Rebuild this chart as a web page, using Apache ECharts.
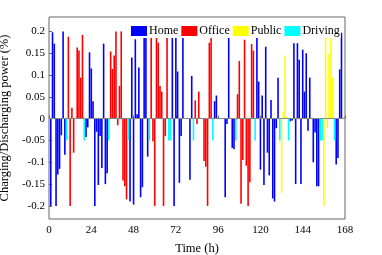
<!DOCTYPE html>
<html><head><meta charset="utf-8">
<script src="https://cdn.jsdelivr.net/npm/echarts@6/dist/echarts.min.js"></script>
<style>html,body{margin:0;padding:0;background:#fff}#c{width:382px;height:255px}</style>
</head><body><div id="c"></div>
<script>
const seriesNames = ['Home', 'Office', 'Public', 'Driving'];
const seriesCodes = ['H', 'O', 'P', 'D'];
const seriesColors = ['#0000ff', '#ff0000', '#ffff00', '#00ffff'];
const xTicks = [0, 24, 48, 72, 96, 120, 144, 168];
const yTicks = [-0.2, -0.15, -0.1, -0.05, 0, 0.05, 0.1, 0.15, 0.2];
// hour-by-hour mode (H home, O office, P public, D driving, - idle), hours 1..168
const modeSeq = 'HHHHHHHHHDOOOO-OOOODHHHHHHHHHHHHHDOOOOOOOOOODHHHHHHHHHHHDOOOOOOOOOODDHHHHHHH---HHDOOO--OOOOODHH----HHH-HHDOOOOOOOOOODHHHHHHHHHHHHHDPPPPDHHHHHHHHHHHH-HHHHDDPPPPPPDHHHH--';
// charging (+) / discharging (-) power, hours 1..168
const power = [
 -0.2, 0.198, 0.172, -0.2, -0.128, -0.115, -0.038, 0.2, -0.083, -0.05,
 0.188, -0.2, 0.025, -0.078, 0, 0.163, 0.156, 0.094, 0.192, -0.05,
 -0.042, -0.02, 0.152, 0.115, 0.04, -0.2, -0.03, -0.152, -0.04, -0.113,
 0.172, -0.15, -0.125, -0.05, 0.154, 0.114, 0.145, 0.2, -0.015, 0.075,
 0.2, -0.142, -0.155, -0.185, -0.05, -0.19, 0.14, -0.197, 0.182, 0.01,
 0.117, -0.18, -0.157, 0.2, 0.19, -0.087, -0.05, 0.185, -0.052, -0.2,
 0.19, 0.174, 0.075, 0.062, -0.2, -0.04, 0.2, -0.05, -0.05, 0.197,
 -0.2, 0.19, 0.108, -0.147, -0.04, 0.19, 0, 0, 0, -0.14,
 0.098, -0.05, 0.042, -0.012, 0.062, 0, 0, -0.097, -0.11, -0.2,
 0.174, 0.19, -0.05, 0.04, 0.053, 0, 0, 0, 0, -0.18,
 -0.012, 0.193, 0, -0.067, -0.07, -0.05, 0.056, 0.132, -0.195, -0.095,
 0.181, -0.108, -0.2, -0.146, 0.171, 0.156, -0.05, 0.2, 0.085, -0.117,
 0.053, -0.152, 0.165, -0.078, -0.13, 0.043, -0.183, -0.19, -0.022, 0.094,
 -0.05, -0.17, 0.017, 0.145, 0.005, -0.05, -0.006, -0.004, 0.173, -0.15,
 0.173, 0.135, -0.15, 0.158, 0.062, 0.15, -0.028, 0.094, 0, -0.1,
 -0.032, -0.155, -0.155, -0.05, -0.05, -0.2, 0.198, -0.022, 0.148, 0.198,
 0.094, -0.05, -0.105, -0.09, 0.113, 0.197, 0, 0
];
const modes = modeSeq.split('');
const FONT = 'Liberation Serif';

const series = seriesNames.map((name, k) => ({
  name: name,
  type: 'bar',
  barWidth: 1.6,
  barGap: '-100%',
  itemStyle: { color: seriesColors[k] },
  data: power.map((v, i) => modes[i] === seriesCodes[k] && v !== 0 ? [i + 1, v] : null).filter(d => d),
  markLine: k === 0 ? {
    silent: true, symbol: 'none', label: { show: false },
    lineStyle: { color: '#888', width: 1, type: 'solid' },
    data: [{ yAxis: 0 }]
  } : undefined
}));

const chart = echarts.init(document.getElementById('c'), null, { renderer: 'canvas' });
chart.setOption({
  animation: false,
  backgroundColor: '#fff',
  grid: { left: 49, right: 37, top: 17, bottom: 36, show: true, borderColor: '#666', borderWidth: 1, outerBoundsMode: 'none' },
  legend: {
    data: seriesNames, top: 24, left: 130, z: 10,
    itemWidth: 16, itemHeight: 10, itemGap: 3, icon: 'rect',
    backgroundColor: '#fff', padding: [1, 1, 1, 1],
    textStyle: { fontFamily: FONT, fontSize: 12, color: '#000', padding: [0, 0, 0, -3] }
  },
  xAxis: {
    type: 'value', min: 0, max: 168, interval: 24,
    name: 'Time (h)', nameLocation: 'middle', nameGap: 23,
    nameTextStyle: { fontFamily: FONT, fontSize: 12.5, color: '#000' },
    axisLine: { show: false },
    axisTick: { show: true, inside: true, length: 3, lineStyle: { color: '#666' } },
    axisLabel: { fontFamily: FONT, fontSize: 11, color: '#000', margin: 6,
      customValues: xTicks },
    splitLine: { show: false }
  },
  yAxis: {
    type: 'value', min: -0.23, max: 0.233,
    name: 'Charging/Discharging power (%)', nameLocation: 'middle', nameGap: 34,
    nameTextStyle: { fontFamily: FONT, fontSize: 12.5, color: '#000' },
    axisLine: { show: false },
    axisTick: { show: true, inside: true, length: 3, lineStyle: { color: '#666' }, customValues: yTicks },
    axisLabel: { fontFamily: FONT, fontSize: 11, color: '#000', margin: 4,
      customValues: yTicks, formatter: v => String(Math.round(v * 100) / 100) },
    splitLine: { show: false }
  },
  series: series
});
</script></body></html>
